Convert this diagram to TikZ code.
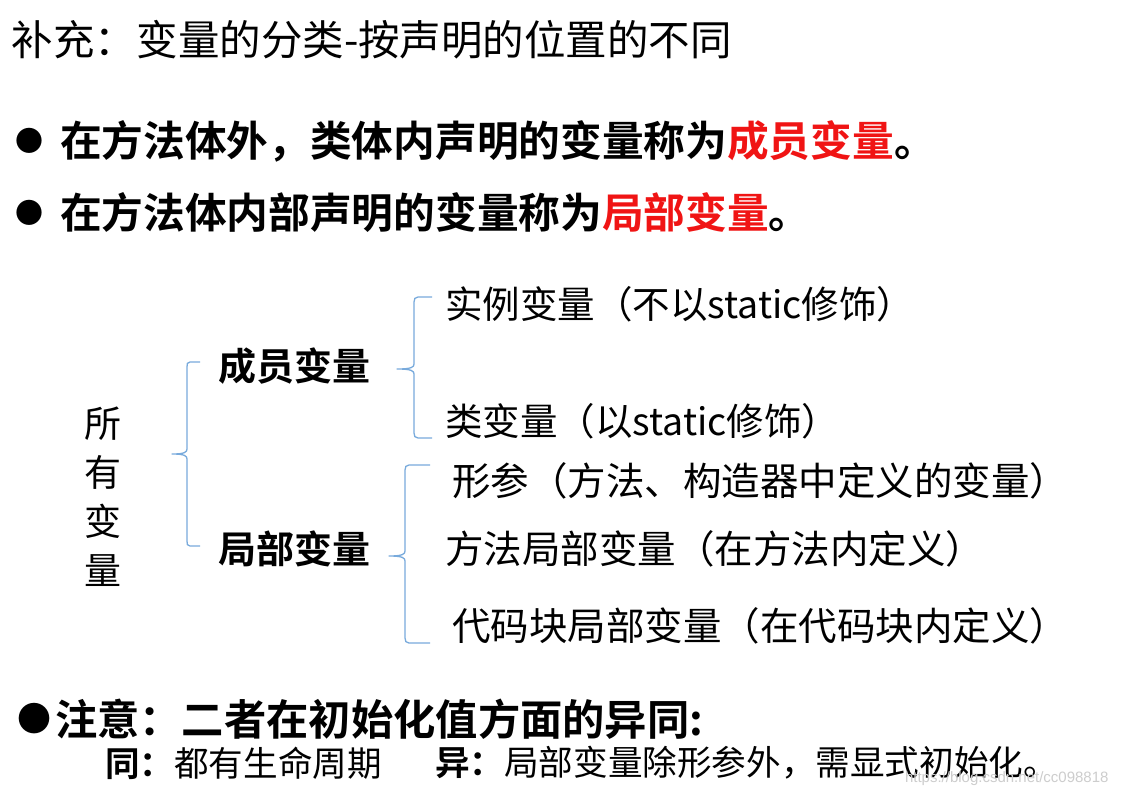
\documentclass[tikz,border=0pt]{standalone}
\usepackage{fontspec}
\setmainfont{Noto Sans CJK SC}[BoldFont={Noto Sans CJK SC Bold}]
\newfontfamily\wmfont{Liberation Sans}
\definecolor{bracecol}{RGB}{120,170,220}
\definecolor{redtxt}{RGB}{240,20,20}
\definecolor{wmgray}{RGB}{205,205,205}
\begin{document}
\begin{tikzpicture}[x=1pt,y=-1pt,
  txt/.style={anchor=west,inner sep=0pt,outer sep=0pt},
  big/.style={txt,font=\fontsize{41.5}{41.5}\selectfont},
  bigb/.style={txt,font=\fontsize{41.7}{41.7}\selectfont\bfseries},
  bul/.style={anchor=center,inner sep=0pt,font=\fontsize{28}{28}\selectfont},
  mid/.style={txt,font=\fontsize{38.5}{38.5}\selectfont},
  mids/.style={txt,font=\fontsize{37.5}{37.5}\selectfont},
  midb/.style={txt,font=\fontsize{38}{38}\selectfont\bfseries},
  small/.style={txt,font=\fontsize{34.6}{34.6}\selectfont},
  bracepath/.style={draw=bracecol,line width=1.3pt,line join=round}]
\useasboundingbox (0,0) rectangle (1124,796);
\fill[white] (0,0) rectangle (1124,796);
% title
\node[big] (title) at (12,40) {补充：变量的分类-按声明的位置的不同};
% bullets
\node[bul] (b1) at (30,141) {●};
\node[bigb] (l1) at (60,141) {在方法体外，类体内声明的变量称为\textcolor{redtxt}{成员变量}。};
\node[bul] (b2) at (30,213) {●};
\node[bigb] (l2) at (60,213) {在方法体内部声明的变量称为\textcolor{redtxt}{局部变量}。};
% vertical label
\node[inner sep=0pt,align=center,font=\fontsize{37}{49}\selectfont] (all) at (103,497) {所\\有\\变\\量};
% braces
\draw[bracepath] (200,362) -- (190,362) .. controls (187,362) and (187,364) .. (187,367)
  -- (187,449) .. controls (187,452) and (185,454) .. (172,454)
  .. controls (185,454) and (187,456) .. (187,459) -- (187,541)
  .. controls (187,544) and (187,546) .. (190,546) -- (200,546);
\node[midb] (mem) at (218,366) {成员变量};
\node[midb] (loc) at (218,549) {局部变量};
\draw[bracepath] (432,297) -- (418,297) .. controls (415,297) and (414,299) .. (414,302)
  -- (414,364) .. controls (414,367) and (412,369) .. (397,369)
  .. controls (412,369) and (414,371) .. (414,374) -- (414,433)
  .. controls (414,436) and (415,438) .. (418,438) -- (432,438);
\draw[bracepath] (430,465) -- (409,465) .. controls (406,465) and (405,467) .. (405,470)
  -- (405,551) .. controls (405,554) and (403,556) .. (389,556)
  .. controls (403,556) and (405,558) .. (405,561) -- (405,638)
  .. controls (405,641) and (406,643) .. (409,643) -- (430,643);
\node[mids] (inst) at (445,304) {实例变量（不以static修饰）};
\node[mids] (cls) at (445,421) {类变量（以static修饰）};
\node[mid] (par) at (452,481) {形参（方法、构造器中定义的变量）};
\node[mid] (meth) at (445,549) {方法局部变量（在方法内定义）};
\node[mid] (blk) at (452,626) {代码块局部变量（在代码块内定义）};
% note
\node[anchor=center,inner sep=0pt,font=\fontsize{34}{34}\selectfont] (b3) at (34,719) {●};
\node[txt,font=\fontsize{42.3}{42.3}\selectfont\bfseries] (note) at (55,719) {注意：二者在初始化值方面的异同:};
\node[small] (same) at (105,763) {\textbf{同：}都有生命周期};
\node[small] (diff) at (435,763) {\textbf{异：}局部变量除形参外，需显式初始化。};
\node[txt,font=\wmfont\fontsize{15}{15}\selectfont,text=wmgray] (wm) at (905,779) {https://blog.csdn.net/cc098818};
\end{tikzpicture}
\end{document}
